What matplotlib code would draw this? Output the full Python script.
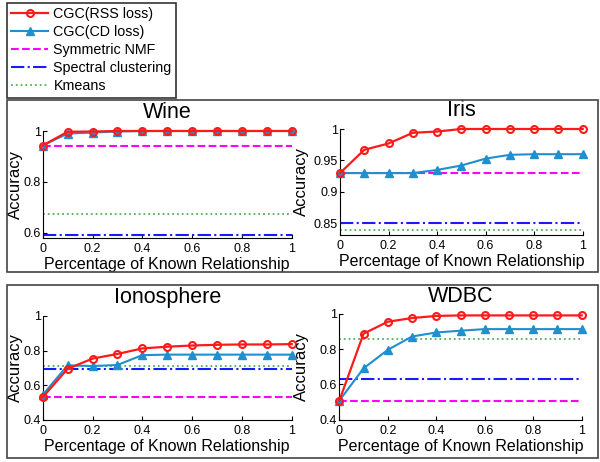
import matplotlib
matplotlib.use("Agg")
import matplotlib.pyplot as plt
from matplotlib.patches import Rectangle
from matplotlib.ticker import FuncFormatter

plt.rcParams['font.family'] = ['Liberation Sans', 'DejaVu Sans']

x = [0, 0.1, 0.2, 0.3, 0.4, 0.5, 0.6, 0.7, 0.8, 0.9, 1.0]

series_names = ["CGC(RSS loss)", "CGC(CD loss)", "Symmetric NMF", "Spectral clustering", "Kmeans"]

# Wine
wine_rss = [0.943, 0.997, 0.998, 1.0, 1.0, 1.0, 1.0, 1.0, 1.0, 1.0, 1.0]
wine_cd = [0.943, 0.990, 0.994, 0.998, 1.0, 1.0, 1.0, 1.0, 1.0, 1.0, 1.0]
wine_nmf, wine_spec, wine_km = 0.943, 0.592, 0.673

# Iris
iris_rss = [0.930, 0.967, 0.977, 0.994, 0.996, 1.0, 1.0, 1.0, 1.0, 1.0, 1.0]
iris_cd = [0.930, 0.930, 0.930, 0.930, 0.935, 0.942, 0.953, 0.959, 0.960, 0.960, 0.960]
iris_nmf, iris_spec, iris_km = 0.930, 0.850, 0.840

# Ionosphere
iono_rss = [0.529, 0.694, 0.753, 0.780, 0.812, 0.822, 0.829, 0.833, 0.835, 0.835, 0.837]
iono_cd = [0.543, 0.714, 0.710, 0.716, 0.773, 0.776, 0.776, 0.776, 0.776, 0.776, 0.776]
iono_nmf, iono_spec, iono_km = 0.533, 0.694, 0.712

# WDBC
wdbc_rss = [0.507, 0.888, 0.956, 0.977, 0.989, 0.992, 0.992, 0.992, 0.992, 0.992, 0.992]
wdbc_cd = [0.507, 0.691, 0.796, 0.872, 0.895, 0.905, 0.914, 0.914, 0.914, 0.914, 0.914]
wdbc_nmf, wdbc_spec, wdbc_km = 0.507, 0.629, 0.855

xticks = [0, 0.2, 0.4, 0.6, 0.8, 1.0]

RED = '#ff1a1a'
BLUE = '#1f8fd0'
MAG = '#ff00ff'
SPB = '#1a1aff'
GRN = '#55b055'

fig = plt.figure(figsize=(6.0, 4.62), dpi=100)
W, H = 600.0, 462.0

def pos(l, r, t, b):
    return [l / W, (H - b) / H, (r - l) / W, (b - t) / H]

panels = [
    ("Wine", pos(42.7, 291.7, 131, 237.5), wine_rss, wine_cd, wine_nmf, wine_spec, wine_km, (0.582, 1.0), [0.6, 0.8, 1.0], -0.081),
    ("Iris", pos(340, 582.7, 129, 234.5), iris_rss, iris_cd, iris_nmf, iris_spec, iris_km, (0.8325, 1.0), [0.85, 0.9, 0.95, 1.0], -0.128),
    ("Ionosphere", pos(42.7, 291.7, 316, 419.5), iono_rss, iono_cd, iono_nmf, iono_spec, iono_km, (0.4, 1.0), [0.4, 0.6, 0.8, 1.0], -0.081),
    ("WDBC", pos(339.3, 581.7, 314, 419.5), wdbc_rss, wdbc_cd, wdbc_nmf, wdbc_spec, wdbc_km, (0.4, 1.0), [0.4, 0.6, 0.8, 1.0], -0.125),
]

fmt = FuncFormatter(lambda v, p: '%g' % round(v, 4))
handles = None
for title, p, rss, cd, nmf, spec, km, ylim, yt, ylx in panels:
    ax = fig.add_axes(p)
    h3, = ax.plot([x[0], x[-1]], [nmf, nmf], color=MAG, ls='--', lw=1.5)
    h4, = ax.plot([x[0], x[-1]], [spec, spec], color=SPB, ls='-.', lw=1.5)
    h5, = ax.plot([x[0], x[-1]], [km, km], color=GRN, ls=':', lw=1.3)
    h2, = ax.plot(x, cd, color=BLUE, lw=1.5, marker='^', ms=5.5, mfc=BLUE, mec=BLUE, clip_on=False, zorder=4)
    h1, = ax.plot(x, rss, color=RED, lw=1.6, marker='o', ms=5, mfc='none', mec=RED, mew=1.5, clip_on=False, zorder=5)
    if handles is None:
        handles = [h1, h2, h3, h4, h5]
    ax.set_xlim(0, 1)
    ax.set_ylim(*ylim)
    ax.set_xticks(xticks)
    ax.set_yticks(yt)
    ax.xaxis.set_major_formatter(fmt)
    ax.yaxis.set_major_formatter(fmt)
    ax.spines['top'].set_visible(False)
    ax.spines['right'].set_visible(False)
    ax.tick_params(direction='in', length=3, labelsize=9)
    ax.tick_params(axis='x', pad=4)
    ax.tick_params(axis='y', pad=1.5)
    ax.set_title(title, fontsize=15.5, pad=9)
    ax.set_xlabel("Percentage of Known Relationship", fontsize=11.5, labelpad=1.5)
    ax.set_ylabel("Accuracy", fontsize=12)
    ax.yaxis.set_label_coords(ylx, 0.5)

# panel frames
for (l, t, r, b) in [(7, 99.5, 598, 272), (7, 284.5, 598, 457.5)]:
    fig.add_artist(Rectangle((l / W, (H - b) / H), (r - l) / W, (b - t) / H,
                             transform=fig.transFigure, fill=False, edgecolor='#444444', lw=1.2))

leg = fig.legend(handles, series_names, loc='upper left', bbox_to_anchor=(7 / W, (H - 3) / H),
                 fontsize=10.3, frameon=True, fancybox=False, edgecolor='black', borderaxespad=0,
                 handlelength=2.6, handletextpad=0.35, labelspacing=0.28, borderpad=0.3)
leg.get_frame().set_linewidth(1.2)

fig.savefig("out.png", dpi=100)
